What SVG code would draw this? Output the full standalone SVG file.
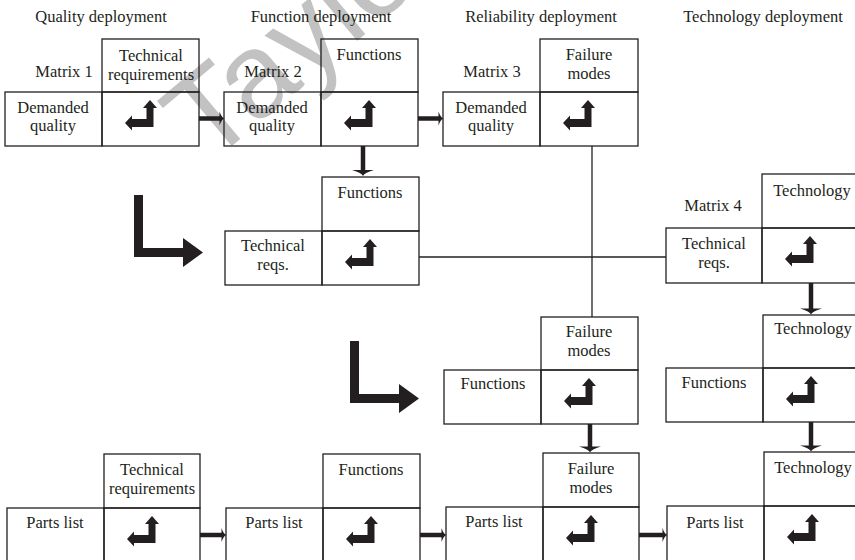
<svg xmlns="http://www.w3.org/2000/svg" xmlns:xlink="http://www.w3.org/1999/xlink" width="855" height="560" viewBox="0 0 855 560">
<style>
.box{fill:none;stroke:#231f20;stroke-width:1.3}
.t{font-family:"Liberation Serif",serif;font-size:16.5px;fill:#231f20;text-anchor:middle}
.icon{fill:#231f20}
.thick{stroke:#231f20;stroke-width:4.5;fill:none}
.thin{stroke:#231f20;stroke-width:1.3;fill:none}
.head{fill:#231f20}
.wm{font-family:"Liberation Sans",sans-serif;font-size:120px;fill:#9a9a9a;opacity:0.6}
</style>
<defs>
<path id="ic" d="M48,8 L55,16 L51.5,16 L51.5,35 L30,35 L30,38.5 L23,31 L30,23.5 L30,27 L44.5,27 L44.5,16 L41,16 Z"/>
<path id="bigL" d="M0,0 L9,0 L9,53 L49,53 L49,43 L69,57.5 L49,72 L49,62 L0,62 Z"/>
<path id="hh" d="M-5,-7 Q-3,-1 0,0 Q-3,1 -5,7 Z"/>
<path id="vh" d="M-11,-6 Q-1,-3 0,0 Q1,-3 11,-6 Z"/>
</defs>
<rect width="855" height="560" fill="#fff"/>
<text class="wm" transform="translate(208,166) rotate(-40)">Taylor</text>

<g id="headers">
<text class="t" x="101" y="22">Quality deployment</text>
<text class="t" x="321" y="22">Function deployment</text>
<text class="t" x="541" y="22">Reliability deployment</text>
<text class="t" x="763" y="22">Technology deployment</text>
</g>

<g id="matrix1">
<rect class="box" x="5" y="92" width="97" height="54"/>
<rect class="box" x="102" y="39" width="97" height="53"/>
<rect class="box" x="102" y="92" width="97" height="54"/>
<text class="t" x="64" y="77">Matrix 1</text>
<text class="t" x="151" y="61">Technical</text>
<text class="t" x="151" y="80">requirements</text>
<text class="t" x="53" y="113">Demanded</text>
<text class="t" x="53" y="131">quality</text>
<use xlink:href="#ic" class="icon" transform="translate(102,92)"/>
</g>

<g id="matrix2">
<rect class="box" x="224" y="92" width="97" height="54"/>
<rect class="box" x="321" y="39" width="97" height="53"/>
<rect class="box" x="321" y="92" width="97" height="54"/>
<text class="t" x="273" y="77">Matrix 2</text>
<text class="t" x="369" y="60">Functions</text>
<text class="t" x="272" y="113">Demanded</text>
<text class="t" x="272" y="131">quality</text>
<use xlink:href="#ic" class="icon" transform="translate(321,92)"/>
</g>

<g id="matrix3">
<rect class="box" x="443" y="92" width="97" height="54"/>
<rect class="box" x="540" y="39" width="98" height="53"/>
<rect class="box" x="540" y="92" width="98" height="54"/>
<text class="t" x="492" y="77">Matrix 3</text>
<text class="t" x="589" y="60">Failure</text>
<text class="t" x="589" y="79">modes</text>
<text class="t" x="491" y="113">Demanded</text>
<text class="t" x="491" y="131">quality</text>
<use xlink:href="#ic" class="icon" transform="translate(540,92)"/>
</g>

<g id="matrix2b">
<rect class="box" x="225" y="231" width="97" height="54"/>
<rect class="box" x="322" y="177" width="97" height="54"/>
<rect class="box" x="322" y="231" width="97" height="54"/>
<text class="t" x="370" y="198">Functions</text>
<text class="t" x="273" y="251">Technical</text>
<text class="t" x="273" y="270">reqs.</text>
<use xlink:href="#ic" class="icon" transform="translate(322,231)"/>
</g>

<g id="matrix4">
<rect class="box" x="666" y="228" width="96" height="55"/>
<rect class="box" x="762" y="174" width="97" height="54"/>
<rect class="box" x="762" y="228" width="97" height="55"/>
<text class="t" x="713" y="211">Matrix 4</text>
<text class="t" x="812" y="196">Technology</text>
<text class="t" x="714" y="249">Technical</text>
<text class="t" x="714" y="268">reqs.</text>
<use xlink:href="#ic" class="icon" transform="translate(762,228)"/>
</g>

<g id="matrix5">
<rect class="box" x="444" y="370" width="97" height="54"/>
<rect class="box" x="541" y="317" width="97" height="53"/>
<rect class="box" x="541" y="370" width="97" height="54"/>
<text class="t" x="589" y="337">Failure</text>
<text class="t" x="589" y="356">modes</text>
<text class="t" x="493" y="389">Functions</text>
<use xlink:href="#ic" class="icon" transform="translate(541,370)"/>
</g>

<g id="matrix6">
<rect class="box" x="666" y="368" width="97" height="54"/>
<rect class="box" x="763" y="315" width="97" height="53"/>
<rect class="box" x="763" y="368" width="97" height="54"/>
<text class="t" x="813" y="334">Technology</text>
<text class="t" x="714" y="388">Functions</text>
<use xlink:href="#ic" class="icon" transform="translate(763,368)"/>
</g>

<g id="bottom1">
<rect class="box" x="7" y="508" width="97" height="60"/>
<rect class="box" x="104" y="454" width="96" height="54"/>
<rect class="box" x="104" y="508" width="96" height="60"/>
<text class="t" x="152" y="475">Technical</text>
<text class="t" x="152" y="494">requirements</text>
<text class="t" x="55" y="528">Parts list</text>
<use xlink:href="#ic" class="icon" transform="translate(104,508)"/>
</g>

<g id="bottom2">
<rect class="box" x="226" y="508" width="97" height="60"/>
<rect class="box" x="323" y="454" width="97" height="54"/>
<rect class="box" x="323" y="508" width="97" height="60"/>
<text class="t" x="371" y="475">Functions</text>
<text class="t" x="274" y="528">Parts list</text>
<use xlink:href="#ic" class="icon" transform="translate(323,508)"/>
</g>

<g id="bottom3">
<rect class="box" x="446" y="507" width="97" height="60"/>
<rect class="box" x="543" y="453" width="96" height="54"/>
<rect class="box" x="543" y="507" width="96" height="60"/>
<text class="t" x="591" y="474">Failure</text>
<text class="t" x="591" y="493">modes</text>
<text class="t" x="494" y="527">Parts list</text>
<use xlink:href="#ic" class="icon" transform="translate(543,507)"/>
</g>

<g id="bottom4">
<rect class="box" x="667" y="506" width="97" height="60"/>
<rect class="box" x="764" y="452" width="97" height="54"/>
<rect class="box" x="764" y="506" width="97" height="60"/>
<text class="t" x="813" y="473">Technology</text>
<text class="t" x="715" y="528">Parts list</text>
<use xlink:href="#ic" class="icon" transform="translate(764,506)"/>
</g>

<g id="connectors">
<line class="thin" x1="592" y1="146" x2="592" y2="317"/>
<line class="thin" x1="419" y1="257" x2="666" y2="257"/>
<line class="thick" x1="199" y1="118.5" x2="221" y2="118.5"/>
<use xlink:href="#hh" class="head" transform="translate(224.5,118.5)"/>
<line class="thick" x1="418" y1="118.5" x2="440" y2="118.5"/>
<use xlink:href="#hh" class="head" transform="translate(443.5,118.5)"/>
<line class="thick" x1="200" y1="535" x2="223" y2="535"/>
<use xlink:href="#hh" class="head" transform="translate(226.5,535)"/>
<line class="thick" x1="420" y1="535" x2="443" y2="535"/>
<use xlink:href="#hh" class="head" transform="translate(446.5,535)"/>
<line class="thick" x1="639" y1="535" x2="664" y2="535"/>
<use xlink:href="#hh" class="head" transform="translate(667.5,535)"/>
<line class="thick" x1="363" y1="146" x2="363" y2="173"/>
<use xlink:href="#vh" class="head" transform="translate(363,176)"/>
<line class="thick" x1="590" y1="424" x2="590" y2="450"/>
<use xlink:href="#vh" class="head" transform="translate(590,452.5)"/>
<line class="thick" x1="811" y1="283" x2="811" y2="312"/>
<use xlink:href="#vh" class="head" transform="translate(811,314.5)"/>
<line class="thick" x1="811" y1="422" x2="811" y2="449"/>
<use xlink:href="#vh" class="head" transform="translate(811,451.5)"/>
<use xlink:href="#bigL" class="head" transform="translate(134,195)"/>
<use xlink:href="#bigL" class="head" transform="translate(350,341)"/>
</g>
</svg>
